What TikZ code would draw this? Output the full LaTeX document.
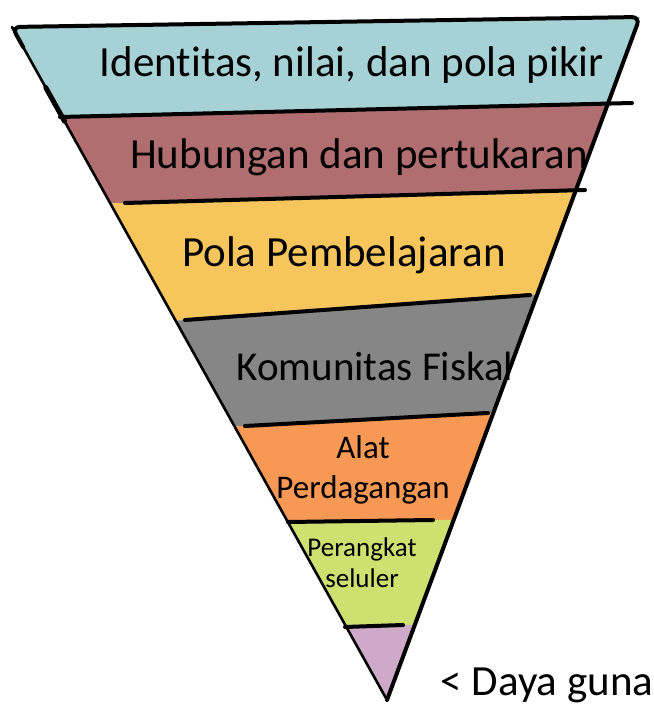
\documentclass[tikz,border=0pt]{standalone}
\usepackage{fontspec}
\setmainfont{Carlito}[Ligatures=NoCommon]
\usetikzlibrary{calc}

\definecolor{identityfill}{RGB}{166,210,214}
\definecolor{relationfill}{RGB}{176,110,112}
\definecolor{learningfill}{RGB}{246,198,92}
\definecolor{communityfill}{RGB}{134,134,134}
\definecolor{tradefill}{RGB}{247,152,84}
\definecolor{mobilefill}{RGB}{206,224,112}
\definecolor{utilityfill}{RGB}{206,170,200}

\begin{document}
\begin{tikzpicture}[
    x=1pt, y=1pt,
    big label/.style={font=\fontsize{43}{48}\selectfont, inner sep=0pt, align=center},
    mid label/.style={font=\fontsize{33}{40}\selectfont, inner sep=0pt, align=center},
    small label/.style={font=\fontsize{27}{31}\selectfont, inner sep=0pt, align=center},
    edge line/.style={draw=black, line width=3pt, line cap=round, line join=round},
    layer line/.style={draw=black, line width=4pt, line cap=round}
]
    \useasboundingbox (0,0) rectangle (654,705);

    \coordinate (topleft) at (12,678);
    \coordinate (topright) at (640,688);
    \coordinate (apex) at (387,5);

    % coloured layers, cut to the funnel
    \begin{scope}
        \clip (topleft) -- (topright) -- (apex) -- cycle;
        \fill[identityfill] (0,705) -- (654,705) -- (654,602.5) -- (0,586.5) -- cycle;
        \fill[relationfill] (0,586.5) -- (654,602.5) -- (654,517) -- (0,498.5) -- cycle;
        \fill[learningfill] (0,498.5) -- (654,517) -- (654,419) -- (0,371.6) -- cycle;
        \fill[communityfill] (0,371.6) -- (654,419) -- (654,301) -- (0,265.9) -- cycle;
        \fill[tradefill] (0,265.9) -- (654,301) -- (654,188) -- (0,179) -- cycle;
        \fill[mobilefill] (0,179) -- (654,188) -- (654,88.6) -- (0,66) -- cycle;
        \fill[utilityfill] (0,66) -- (654,88.6) -- (654,0) -- (0,0) -- cycle;
    \end{scope}

    % layer borders
    \coordinate (b1l) at (60,588);   \coordinate (b1r) at (632,602);
    \coordinate (b2l) at (125,502);  \coordinate (b2r) at (585,515);
    \coordinate (b3l) at (185,385);  \coordinate (b3r) at (530,410);
    \coordinate (b4l) at (245,279);  \coordinate (b4r) at (488,292);
    \coordinate (b5l) at (288,183);  \coordinate (b5r) at (433,185);
    \coordinate (b6l) at (345,78);   \coordinate (b6r) at (403,80);
    \foreach \b in {1,...,6}
        \draw[layer line] (b\b l) -- (b\b r);

    % funnel outline
    \draw[edge line, line width=2.6pt] (apex) -- (topleft);
    \draw[edge line, line width=4pt, rounded corners=8pt] ($(topleft)!0.03!(apex)$) -- (topleft) -- (topright) -- (apex);
    \draw[edge line, line width=5pt] ($(topleft)!0.09!(apex)$) -- ($(topleft)!0.14!(apex)$);

    \node[big label] (identity) at (352,640) {Identitas, nilai, dan pola pikir};
    \node[big label] (relation) at (359,548) {Hubungan dan pertukaran};
    \node[big label] (learning) at (344,450) {Pola Pembelajaran};
    \node[big label, font=\fontsize{41}{48}\selectfont] (community) at (375,339) {Komunitas Fiskal};
    \node[mid label] (trade) at (363,235) {Alat\\Perdagangan};
    \node[small label] (mobile) at (362,142) {Perangkat\\seluler};
    \node[big label] (utility) at (547,20) {< Daya guna};

\end{tikzpicture}
\end{document}
